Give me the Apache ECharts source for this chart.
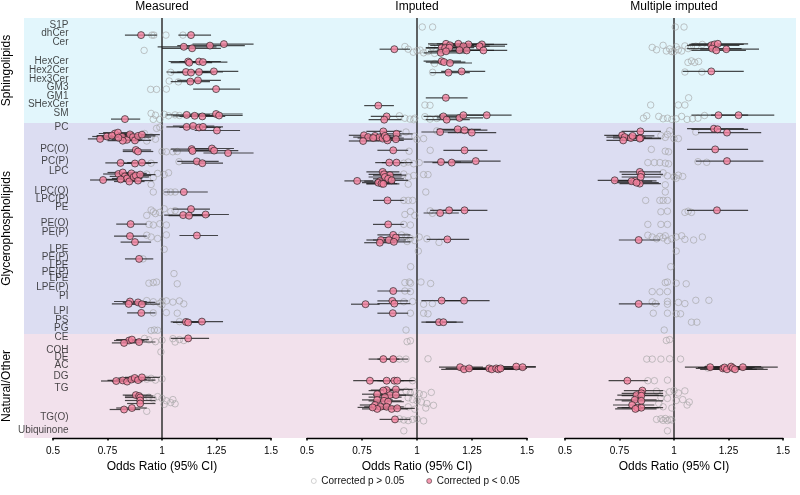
<!DOCTYPE html>
<html><head><meta charset="utf-8">
<script src="https://cdn.jsdelivr.net/npm/echarts@6/dist/echarts.min.js"></script>
<style>html,body{margin:0;padding:0;background:#fff}#c{width:800px;height:495px}</style>
</head><body><div id="c"></div>
<script>
// ---------- DATA ----------
const panelTitles = ['Measured', 'Imputed', 'Multiple imputed'];
const xTicks = [0.5, 0.75, 1, 1.25, 1.5];
const groupNames = ['Sphingolipids', 'Glycerophospholipids', 'Natural/Other'];
const groupStart = [0, 35, 105.3];
const groupEnd = [35, 105.3, 140];
const classNames = ['S1P','dhCer','Cer','HexCer','Hex2Cer','Hex3Cer','GM3','GM1','SHexCer','SM',
  'PC','PC(O)','PC(P)','LPC','LPC(O)','LPC(P)','PE','PE(O)','PE(P)','LPE','PE(P)','LPE','PE(P)','LPE','LPE(P)',
  'PI','LPI','PS','PG','CE','COH','DE','AC','DG','TG','TG(O)','Ubiquinone'];
const classRows = [2.7,5.4,8.2,14.6,17.7,20.7,23.4,26.2,29,31.8,
  36.7,44,48,51.3,58,60.7,63.3,68.7,71.7,77.3,80,82.7,85,87,90,
  93,98,101,103.7,106.7,111,113.3,116,119.7,123.7,133.3,137.7];

// significant: [row, OR, lower CI, upper CI]; non-significant: [row, OR]
const sigMeasured = [
[5.7,0.904,0.83,0.977],[5.7,1.133,1.075,1.225],
[9.6,1.10,0.98,1.25],[10.1,1.138,1.0,1.27],[9.2,1.22,1.07,1.38],[8.7,1.284,1.14,1.42],
[14.5,1.12,1.03,1.22],[14.9,1.125,1.04,1.23],[14.5,1.17,1.08,1.27],[14.7,1.188,1.1,1.3],
[18.0,1.11,1.02,1.21],[18.2,1.133,1.04,1.24],[18.0,1.17,1.07,1.28],[17.8,1.238,1.13,1.35],
[21.2,1.13,1.04,1.22],[20.8,1.165,1.07,1.27],[23.7,1.248,1.143,1.358],
[32.3,1.113,1.02,1.22],[32.6,1.15,1.05,1.25],[32.8,1.185,1.08,1.29],[32.0,1.248,1.13,1.37],[32.5,1.262,1.15,1.37],
[33.7,0.83,0.766,0.9],
[36.3,1.113,1.02,1.21],[36.0,1.143,1.05,1.24],[36.5,1.17,1.08,1.27],[36.3,1.188,1.1,1.28],[37.5,1.252,1.15,1.358],
[40.3,0.716,0.66,0.79],[39.5,0.747,0.68,0.82],[38.5,0.784,0.71,0.86],[39.2,0.77,0.70,0.85],[38.2,0.798,0.73,0.87],
[39.6,0.817,0.74,0.9],[40.6,0.839,0.77,0.91],[38.8,0.853,0.78,0.93],[39.7,0.867,0.79,0.95],[40.8,0.876,0.80,0.95],
[39.3,0.89,0.82,0.97],[38.9,0.908,0.83,0.99],[40.9,0.82,0.75,0.9],[39.9,0.80,0.72,0.89],
[44.0,0.88,0.82,0.95],[44.5,0.89,0.82,0.96],[43.7,1.136,1.04,1.24],[44.3,1.14,1.05,1.24],[43.5,1.229,1.12,1.33],
[44.2,1.239,1.13,1.35],[45.0,1.303,1.19,1.42],
[48.3,0.81,0.74,0.88],[48.5,0.876,0.8,0.95],[48.2,0.908,0.84,0.98],[47.8,1.16,1.07,1.26],[48.4,1.185,1.09,1.28],
[54.0,0.73,0.67,0.8],[52.0,0.80,0.73,0.87],[51.5,0.82,0.75,0.89],[52.8,0.83,0.76,0.9],[53.5,0.84,0.77,0.91],
[54.5,0.85,0.78,0.92],[51.8,0.86,0.79,0.93],[53.0,0.87,0.8,0.94],[52.5,0.88,0.81,0.95],[54.2,0.89,0.82,0.96],
[53.8,0.81,0.74,0.88],[52.2,0.90,0.83,0.97],
[58.0,1.10,1.01,1.21],[63.7,1.133,1.05,1.22],[65.7,1.097,1.01,1.2],[65.9,1.124,1.03,1.22],[65.5,1.2,1.1,1.307],
[68.7,0.856,0.79,0.93],[72.7,0.853,0.78,0.93],[72.5,1.16,1.08,1.257],[74.7,0.876,0.81,0.95],[80.3,0.895,0.83,0.96],
[94.5,0.853,0.78,0.93],[95.3,0.847,0.77,0.93],[94.8,0.89,0.82,0.97],[95.4,0.908,0.83,0.99],[98.3,0.905,0.84,0.97],
[101.3,1.11,1.04,1.19],[101.5,1.12,1.05,1.2],[101.2,1.183,1.1,1.28],
[107.5,0.849,0.78,0.92],[107.2,0.862,0.79,0.94],[108.3,0.826,0.77,0.9],[108.0,0.895,0.82,0.97],[106.8,1.12,1.04,1.216],
[121.0,0.79,0.72,0.86],[120.8,0.82,0.75,0.9],[121.2,0.84,0.77,0.91],[120.5,0.86,0.79,0.93],[120.0,0.875,0.8,0.95],
[120.7,0.89,0.82,0.97],[119.8,0.908,0.83,0.99],
[125.7,0.88,0.82,0.95],[126.0,0.895,0.83,0.96],[126.5,0.9,0.83,0.97],[127.5,0.9,0.83,0.97],[128.5,0.9,0.84,0.97],
[130.5,0.826,0.76,0.9],[130.0,0.862,0.79,0.93]
];
const nsMeasured = [
[5.7,0.954],[5.7,0.963],[5.7,1.018],[5.7,1.096],[10.8,0.918],[18.1,1.04],[21,1.033],[21.3,1.075],
[23.8,0.948],[23.8,0.975],[23.7,1.02],
[31.8,0.95],[32.4,0.97],[32.1,1.01],[32.6,1.03],[32.3,1.06],[32.5,1.08],[33.8,0.96],[33.8,0.99],
[36.8,0.975],[36.4,0.99],[38.5,0.92],[39.6,0.95],[40.4,0.97],[41,0.93],
[44.5,1.0],[44.6,1.02],[44.6,1.05],[44.5,1.07],[48.4,0.95],[47.9,1.078],
[52,0.93],[53.2,0.96],[51.8,0.98],[52.2,1.01],[51.6,1.03],[55.5,0.95],
[58,0.96],[58,1.02],[58,1.04],[58,1.06],
[64,0.95],[64.6,0.96],[65.2,0.97],[64.8,0.99],[63.6,1.01],[64.5,1.04],[65.8,0.93],[64.2,1.06],
[68.8,0.94],[69,0.96],[68.6,0.99],[69,1.02],[72.4,0.93],[73,0.95],[73.5,0.98],[72.3,1.02],
[77.1,1.01],[80.3,0.913],[85.2,1.055],[88.4,0.94],[88.2,0.96],[88,0.975],[88.6,1.07],
[94.2,0.93],[94.6,0.96],[95.1,0.99],[94.4,1.0],[95.6,1.0],[94.3,1.02],[94.7,1.05],[94.3,1.08],[95.3,1.1],
[98.3,0.96],[98.2,1.02],[98.4,1.07],[101.2,1.08],[104.2,0.95],[104,0.965],[104.1,0.98],
[106.8,0.92],[107.3,0.94],[107.9,0.97],[107.4,1.0],[106.9,1.05],[108,1.06],[107.2,1.08],[107.5,1.1],
[111.3,0.995],[120.4,0.93],[120.1,0.95],[120.7,0.97],[120.3,1.0],
[126.4,0.94],[127,0.96],[126.2,0.98],[126.8,1.0],[127.6,1.02],[128.2,1.04],[127.2,1.05],[128.6,1.06],[128.8,1.01],
[131.1,0.93]
];
const sigImputed = [
[10.4,0.897,0.83,0.968],[8.6,1.132,1.05,1.24],[9.1,1.15,1.06,1.26],[8.6,1.188,1.09,1.3],[8.8,1.234,1.13,1.35],
[8.8,1.295,1.18,1.41],[9.4,1.284,1.17,1.4],[9.4,1.211,1.11,1.33],[9.9,1.112,1.04,1.22],[10.0,1.128,1.04,1.24],
[9.9,1.147,1.06,1.26],[10.7,1.193,1.09,1.31],[10.8,1.226,1.12,1.35],[10.8,1.302,1.19,1.41],[11.6,1.108,1.03,1.22],
[11.1,1.132,1.05,1.24],
[14.4,1.112,1.03,1.2],[14.7,1.123,1.04,1.22],[15.0,1.15,1.06,1.25],[18.2,1.143,1.06,1.24],[17.8,1.203,1.11,1.31],
[26.6,1.131,1.04,1.23],[29.2,0.824,0.76,0.895],
[32.8,0.862,0.79,0.94],[33.9,0.851,0.78,0.93],[32.8,1.12,1.03,1.22],[33.9,1.135,1.04,1.24],[33.3,1.193,1.09,1.3],
[32.4,1.211,1.1,1.33],[32.4,1.317,1.2,1.43],
[38.0,1.105,1.02,1.2],[37.1,1.185,1.09,1.29],[37.4,1.216,1.12,1.32],[38.2,1.249,1.14,1.36],
[37.8,0.847,0.77,0.93],[38.6,0.907,0.83,0.98],[39.1,0.759,0.69,0.83],[39.7,0.778,0.71,0.85],[39.3,0.809,0.74,0.88],
[39.8,0.828,0.76,0.9],[40.2,0.844,0.77,0.92],[39.3,0.854,0.78,0.93],[40.8,0.866,0.79,0.94],[40.4,0.904,0.83,0.98],
[41.0,0.755,0.69,0.83],[40.0,0.801,0.73,0.87],[40.0,0.862,0.79,0.94],
[44.1,0.892,0.82,0.96],[44.1,1.216,1.12,1.32],
[48.2,0.874,0.81,0.94],[48.2,0.907,0.84,0.98],[48.0,1.109,1.03,1.2],[48.2,1.158,1.07,1.25],[47.7,1.267,1.16,1.38],
[51.3,0.844,0.77,0.92],[52.1,0.85,0.78,0.93],[52.4,0.877,0.8,0.95],[53.0,0.854,0.78,0.93],[53.6,0.869,0.8,0.94],
[54.1,0.885,0.81,0.96],[54.4,0.831,0.76,0.9],[54.9,0.824,0.75,0.9],[55.2,0.839,0.77,0.91],[55.3,0.847,0.77,0.92],
[54.3,0.728,0.67,0.8],
[60.8,0.866,0.8,0.94],[65.0,1.105,1.03,1.19],[64.1,1.146,1.06,1.24],[64.1,1.216,1.12,1.32],[68.8,0.869,0.8,0.94],
[72.3,0.892,0.82,0.97],[73.2,0.904,0.83,0.98],[74.0,0.836,0.77,0.91],[74.0,0.872,0.8,0.95],[74.9,0.831,0.76,0.9],
[74.6,0.895,0.82,0.97],[73.8,1.138,1.044,1.237],
[91.0,0.892,0.82,0.97],[95.4,0.766,0.7,0.83],[94.3,0.888,0.82,0.96],[95.2,0.897,0.82,0.97],[94.2,1.112,1.02,1.2],
[94.2,1.214,1.11,1.33],[98.4,0.89,0.82,0.96],[101.4,1.1,1.02,1.18],[101.4,1.12,1.04,1.21],
[113.7,0.847,0.78,0.92],[113.7,0.892,0.82,0.96],
[116.4,1.196,1.1,1.3],[117.1,1.214,1.11,1.32],[116.8,1.237,1.13,1.35],[116.8,1.328,1.21,1.45],[117.1,1.34,1.22,1.46],
[116.8,1.36,1.24,1.48],[117.1,1.37,1.25,1.49],[116.8,1.38,1.26,1.5],[116.2,1.451,1.33,1.54],[116.4,1.48,1.36,1.54],
[120.9,0.786,0.71,0.87],[120.9,0.862,0.79,0.94],[120.9,0.897,0.82,0.98],[120.9,0.91,0.83,0.99],
[124.0,0.862,0.79,0.94],[123.8,0.904,0.83,0.98],[124.2,0.847,0.78,0.92],[125.4,0.819,0.75,0.89],[125.7,0.877,0.8,0.95],
[125.7,0.904,0.83,0.98],[126.4,0.854,0.78,0.93],[127.3,0.819,0.75,0.89],[127.6,0.85,0.78,0.93],[127.9,0.869,0.8,0.94],
[129.0,0.809,0.74,0.88],[129.6,0.834,0.76,0.91],[129.6,0.862,0.79,0.94],[130.3,0.885,0.81,0.96],[130.1,0.91,0.83,0.99],
[130.3,0.819,0.75,0.89],[129.8,0.798,0.73,0.87],[133.8,0.9,0.83,0.97]
];
const nsImputed = [
[3,1.024],[3,1.071],
[9.5,0.945],[10.4,0.96],[11.4,0.983],[10.7,1.014],[11.6,1.03],[11.2,1.05],[9.6,1.067],[11.8,1.08],[10.9,1.0],
[15.2,1.08],[18.1,1.071],[29,1.036],[29.1,1.059],
[32.6,0.92],[33.4,0.945],[33.7,0.968],[33.9,0.985],[33.4,0.99],[32.9,1.036],[33.7,1.059],[33.5,1.09],
[37.6,1.09],[38,0.95],[39.4,0.99],[40.2,1.03],[40.5,1.0],[44.4,0.964],[44.1,1.06],
[48.4,0.94],[48,0.96],[48.6,0.985],[48.2,1.01],
[52,0.94],[53,0.96],[52.5,0.985],[52.2,1.03],[52.2,1.05],[55.4,0.96],[58,1.04],
[60.8,0.94],[60.8,0.96],[60.8,0.98],[65.5,0.945],[64.5,0.97],[65.8,0.99],[64.3,1.06],[65.1,1.07],
[68.8,0.94],[69,0.97],
[72.3,0.93],[72.8,0.95],[73.5,0.97],[74.2,0.99],[73,1.01],[73.6,1.045],[74.8,1.1],[74.5,0.955],
[77.7,1.006],[82.9,0.971],[88.2,0.945],[88,0.965],[88.4,0.971],[88,1.018],[88.5,1.062],[91,0.945],[91.2,0.97],
[94.6,0.94],[94.5,0.98],[95.4,1.03],[95.2,1.07],[98.4,0.97],[98.4,1.03],[98.6,1.05],[104,0.95],
[107.9,0.955],[107.6,0.97],[113.7,0.92],[113.7,0.95],[113.6,1.05],[120.9,0.98],
[124.4,0.95],[125,0.97],[124.6,0.99],[125.2,1.01],[125.6,1.03],[124.8,1.065],[126.6,0.96],[127.2,0.98],[127.6,1.0],
[128,1.02],[128.5,1.045],[129.1,1.075],[130,1.04],[129.6,0.96],[130.4,0.99],
[133.6,0.92],[134,0.94],[134.2,0.96],[133.8,0.98],[133.6,1.0],[134.3,1.03],[137.6,0.94]
];
const sigMultiple = [
[9.1,1.171,1.06,1.3],[8.8,1.186,1.07,1.32],[8.6,1.201,1.08,1.34],[10.2,1.175,1.06,1.31],[10.8,1.194,1.08,1.33],
[10.4,1.24,1.12,1.39],[17.8,1.171,1.04,1.32],[32.4,1.204,1.08,1.34],[32.4,1.296,1.17,1.46],
[36.9,1.183,1.06,1.32],[37.1,1.2,1.08,1.34],[38.2,1.243,1.11,1.4],
[37.8,0.846,0.76,0.94],[39.1,0.762,0.68,0.85],[39.7,0.774,0.69,0.87],[40.0,0.802,0.72,0.9],[39.3,0.81,0.72,0.91],
[40.0,0.847,0.76,0.94],[40.8,0.767,0.69,0.86],[40.2,0.843,0.75,0.94],
[43.8,1.189,1.06,1.34],[47.7,1.243,1.1,1.41],
[51.3,0.843,0.75,0.94],[52.1,0.85,0.76,0.95],[53.0,0.847,0.76,0.94],[54.3,0.82,0.73,0.92],[54.4,0.805,0.72,0.9],
[55.2,0.843,0.75,0.94],[54.1,0.728,0.65,0.82],[54.9,0.828,0.74,0.93],
[64.1,1.197,1.06,1.34],[74.0,0.838,0.747,0.935],[95.3,0.838,0.747,0.935],
[116.4,1.166,1.05,1.3],[116.8,1.224,1.1,1.36],[116.5,1.232,1.11,1.37],[117.1,1.243,1.12,1.38],[116.2,1.262,1.14,1.4],
[116.7,1.27,1.15,1.41],[117.1,1.28,1.16,1.43],[116.4,1.316,1.19,1.476],
[120.9,0.786,0.7,0.88],
[124.2,0.855,0.77,0.95],[125.1,0.85,0.76,0.95],[125.7,0.828,0.74,0.93],[125.9,0.85,0.76,0.95],[127.3,0.82,0.73,0.92],
[127.6,0.85,0.76,0.95],[129.0,0.808,0.72,0.91],[129.9,0.832,0.74,0.93],[129.9,0.85,0.76,0.95],[130.3,0.823,0.73,0.92]
];
const nsMultiple = [
[3,1.006],[3,1.046],
[9.8,0.9],[10.6,0.92],[9.1,0.95],[11,0.965],[10.3,0.98],[11.2,0.99],[9.6,1.01],[10.6,1.02],[11,1.035],[9.3,1.05],
[10.2,1.065],[9.7,1.08],[9.4,1.1],[8.8,1.13],[11.2,1.0],
[14.8,1.064],[14.3,1.08],[14.8,1.095],[14.5,1.113],[18,1.05],[18,1.128],[26.6,1.067],[29,0.893],[29,1.02],[29,1.05],
[33.4,0.86],[32.6,0.875],[32.8,0.93],[33.6,0.95],[33.4,0.97],[33.8,0.99],[33.6,1.01],[32.8,1.035],[33.8,1.06],
[33.6,1.085],[33.4,1.11],[32.5,1.14],
[37.6,0.98],[38,1.1],[39.2,0.94],[39.8,0.96],[40.2,1.0],[40.2,1.02],[38.8,0.97],[43.8,0.896],[44.4,0.96],[44.6,0.975],
[48.2,0.88],[48.2,0.91],[48.2,0.935],[48.4,0.96],[48.6,0.975],[47.9,1.11],[48.1,1.15],
[51.6,0.95],[52.6,0.97],[53,1.0],[52.4,1.02],[52.8,1.04],[53.4,1.01],[55.6,0.96],[58,0.96],
[60.8,0.87],[60.8,0.935],[60.8,0.95],[60.8,0.97],[64.6,0.94],[64.4,0.97],[64.8,1.05],[64.4,1.065],[64.8,1.08],
[68.8,0.88],[68.8,0.94],[68.8,0.97],
[72.4,0.88],[73,0.9],[73.6,0.92],[72.8,0.935],[73.3,0.95],[72.6,0.96],[74.2,0.97],[73.6,0.99],[73,1.01],[72.6,1.035],
[73.8,1.05],[74,1.09],[73,1.13],
[77.7,1.01],[82.9,0.985],[88.2,0.96],[88,0.97],[88.4,1.01],[88.6,1.056],[91.2,0.9],[91.3,0.935],[91.2,0.97],
[94.6,0.9],[95.2,0.915],[94.5,0.97],[95.4,0.97],[94.8,1.02],[95.2,1.05],[94.1,1.1],[94.1,1.16],
[98.4,0.905],[98.4,0.97],[98.6,1.01],[98.6,1.03],[101.4,1.08],[101.4,1.105],[104,0.955],[107.5,0.965],[107.2,0.98],
[113.7,0.875],[113.7,0.9],[113.7,0.94],[113.6,0.98],[113.7,1.03],[116.7,1.155],[120.9,0.88],[120.9,0.91],[120.7,0.97],
[124.4,0.92],[125.2,0.95],[124.6,0.98],[124.2,1.0],[125,1.02],[124.3,1.05],[126.5,0.94],[126.8,0.97],[127.5,1.01],
[127.2,1.04],[128,1.07],[129,1.06],[129.6,0.95],[130,0.99],[128.5,0.93],
[133.8,0.92],[133.6,0.94],[134.1,0.95],[133.5,0.96],[134.2,0.97],[133.8,0.98],[134,0.99],[137.6,0.97]
];
const sigSets = [sigMeasured, sigImputed, sigMultiple];
const nsSets = [nsMeasured, nsImputed, nsMultiple];

// ---------- STYLE / LAYOUT ----------
const FONT = '"Liberation Sans", Arial, sans-serif';
const ROW_MAX = 140;
const bandColors = ['#E2F6FC', '#DCDDF2', '#F2E1EC'];
const PINK = '#F5829F';
const panelLayout = [{left: 53, width: 218}, {left: 307, width: 220}, {left: 565, width: 218}];
const NS_NAME = 'Corrected p > 0.05', SIG_NAME = 'Corrected p < 0.05';

const chart = echarts.init(document.getElementById('c'), null, {renderer: 'canvas'});

const grid = [{left: 24, right: 4, top: 18, height: 420}];
const xAxis = [{gridIndex: 0, type: 'value', min: 0, max: 1, show: false}];
const yAxis = [{gridIndex: 0, type: 'value', min: 0, max: ROW_MAX, inverse: true, show: false}];
const series = [{
  type: 'custom', xAxisIndex: 0, yAxisIndex: 0, silent: true, z: 0,
  data: groupStart.map((s, i) => [s, groupEnd[i]]),
  encode: {y: [0, 1]},
  renderItem: (params, api) => {
    const p0 = api.coord([0, api.value(0)]);
    const p1 = api.coord([1, api.value(1)]);
    return {type: 'rect', shape: {x: p0[0], y: p0[1], width: p1[0] - p0[0], height: p1[1] - p0[1]},
      style: {fill: bandColors[params.dataIndex]}};
  }
}];

panelLayout.forEach((pl, k) => {
  const gi = k + 1;
  grid.push({left: pl.left, width: pl.width, top: 18, height: 420});
  xAxis.push({
    gridIndex: gi, type: 'value', min: xTicks[0], max: xTicks[xTicks.length - 1],
    interval: xTicks[1] - xTicks[0], z: 5,
    axisLine: {show: true, onZero: false, lineStyle: {color: '#000', width: 1.3}},
    axisTick: {show: true, length: 2.5, lineStyle: {color: '#000', width: 1.5}},
    axisLabel: {color: '#000', fontSize: 10, fontFamily: FONT, margin: 8},
    splitLine: {show: false},
    name: 'Odds Ratio (95% CI)', nameLocation: 'middle', nameGap: 19,
    nameTextStyle: {color: '#000', fontSize: 12, fontFamily: FONT}
  });
  yAxis.push({gridIndex: gi, type: 'value', min: 0, max: ROW_MAX, inverse: true, show: false});

  series.push({
    type: 'scatter', name: NS_NAME, xAxisIndex: gi, yAxisIndex: gi, z: 3, clip: false,
    symbol: 'circle', symbolSize: 6.5,
    itemStyle: {color: 'rgba(255,255,255,0)', borderColor: '#a3a3a3', borderWidth: 0.8},
    data: nsSets[k].map(d => [d[1], d[0]]),
    markLine: {silent: true, symbol: 'none', label: {show: false}, z: 2,
      lineStyle: {color: '#3c3c3c', width: 1.6, type: 'solid'}, data: [{xAxis: 1}]}
  });
  series.push({
    type: 'custom', xAxisIndex: gi, yAxisIndex: gi, z: 4, silent: true,
    data: sigSets[k], encode: {x: [2, 3], y: 0},
    renderItem: (params, api) => {
      const a = api.coord([api.value(2), api.value(0)]);
      const b = api.coord([api.value(3), api.value(0)]);
      return {type: 'line', shape: {x1: a[0], y1: a[1], x2: b[0], y2: b[1]},
        style: {stroke: '#1e1e1e', lineWidth: 1.2, opacity: 0.8}};
    }
  });
  series.push({
    type: 'scatter', name: SIG_NAME, xAxisIndex: gi, yAxisIndex: gi, z: 5, clip: false,
    symbol: 'circle', symbolSize: 7,
    itemStyle: {color: PINK, borderColor: '#1a1a1a', borderWidth: 0.8},
    data: sigSets[k].map(d => [d[1], d[0]])
  });
});

// class labels drawn at the left edge of the first panel
series.push({
  type: 'scatter', xAxisIndex: 1, yAxisIndex: 1, z: 6, silent: true, clip: false,
  symbolSize: 1, itemStyle: {color: 'rgba(0,0,0,0)'},
  data: classNames.map((n, i) => ({name: n, value: [xTicks[0], classRows[i]]})),
  label: {show: true, formatter: '{b}', position: [16, 0], align: 'right', verticalAlign: 'middle',
    fontSize: 10, fontFamily: FONT, color: '#1a1a1a'}
});

chart.setOption({
  animation: false,
  backgroundColor: '#fff',
  grid, xAxis, yAxis, series,
  legend: {
    data: [NS_NAME, SIG_NAME], top: 471, left: 306, padding: 5,
    itemWidth: 5, itemHeight: 5, itemGap: 22, icon: 'circle',
    itemStyle: {borderWidth: 0.6},
    textStyle: {fontSize: 10, fontFamily: FONT, color: '#111'}
  }
});

// titles & group labels positioned from the axes
const graphics = [];
panelTitles.forEach((t, k) => {
  const px = chart.convertToPixel({gridIndex: k + 1}, [1, 0]);
  graphics.push({type: 'text', x: px[0], y: 7, style: {text: t, fontSize: 12, fontFamily: FONT,
    fill: '#000', textAlign: 'center', textVerticalAlign: 'middle'}});
});
groupNames.forEach((g, i) => {
  const py = chart.convertToPixel({gridIndex: 0}, [0, (groupStart[i] + groupEnd[i]) / 2]);
  graphics.push({type: 'text', x: 7, y: py[1], rotation: Math.PI / 2,
    style: {text: g, fontSize: 12, fontFamily: FONT, fill: '#000', textAlign: 'center', textVerticalAlign: 'middle'}});
});
chart.setOption({graphic: graphics});
</script></body></html>
